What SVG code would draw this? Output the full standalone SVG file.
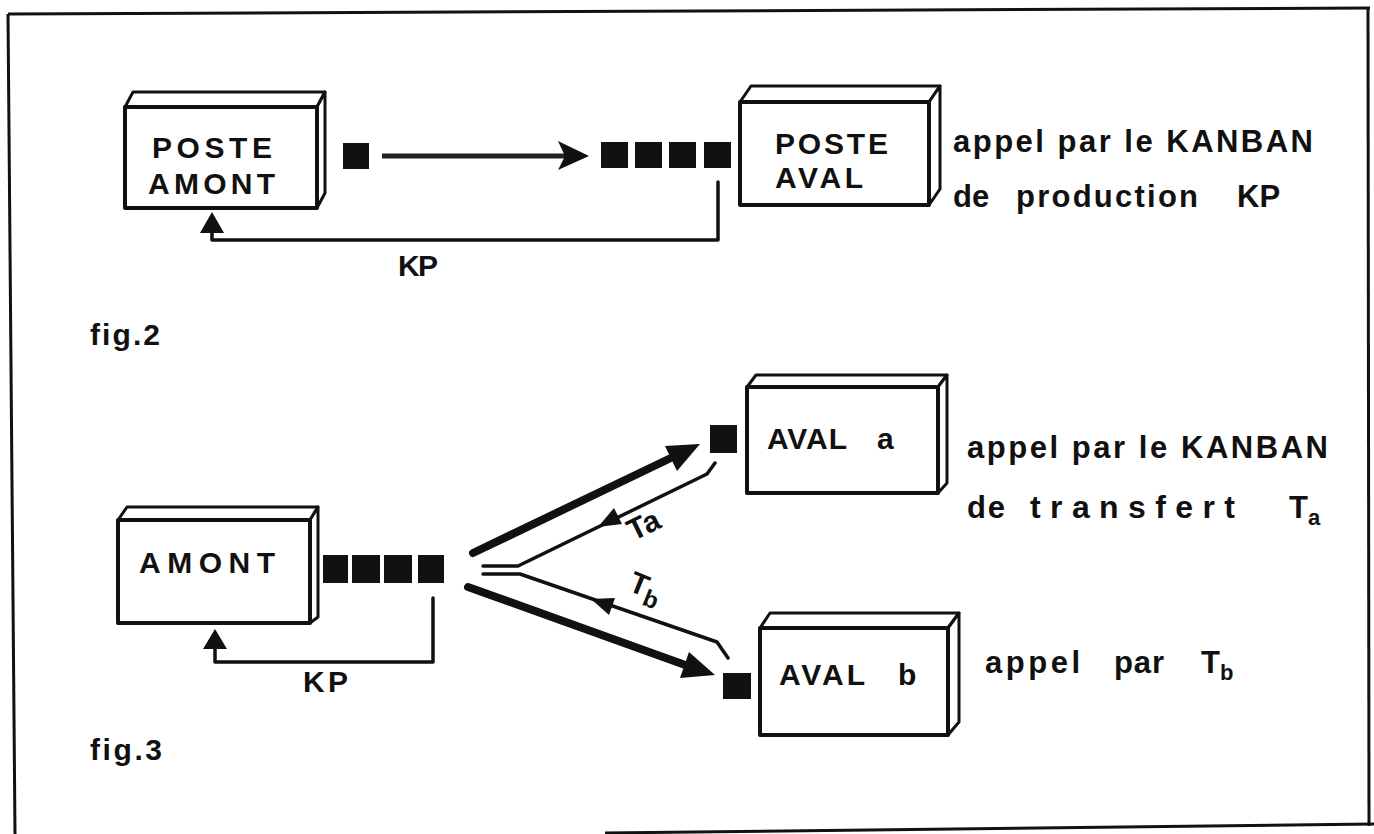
<svg xmlns="http://www.w3.org/2000/svg" width="1374" height="834" viewBox="0 0 1374 834">
<defs>
<style>
.face{fill:#fff;stroke:#111;stroke-width:4;stroke-linejoin:round}
.top{fill:#fff;stroke:#111;stroke-width:3;stroke-linejoin:round}
.lbl{font-family:"Liberation Sans",Arial,sans-serif;font-weight:bold;font-size:30px;fill:#111}
.txt{font-family:"Liberation Sans",Arial,sans-serif;font-weight:bold;font-size:31px;fill:#111}
.sq{fill:#111}
.ln{fill:none;stroke:#111;stroke-width:3.5;stroke-linejoin:round;stroke-linecap:round}
.thick{fill:none;stroke:#111;stroke-width:8;stroke-linecap:round}
.head{fill:#111}
</style>
</defs>
<rect width="1374" height="834" fill="#fff"/>
<g id="frame" fill="none" stroke="#111" stroke-width="3">
<path d="M8,14 L1370,8"/>
<path d="M8,14 L15,834"/>
<path d="M1368,8 L1369,826"/>
<path d="M605,833 L1374,824"/>
</g>

<g id="poste-amont">
<polygon class="top" points="125,107 133,92 325,92 317,107"/>
<polygon class="top" points="317,107 325,92 325,193 317,208"/>
<rect class="face" x="125" y="107" width="192" height="101"/>
<text class="lbl" x="152" y="158" textLength="120" lengthAdjust="spacing">POSTE</text>
<text class="lbl" x="148" y="194" textLength="127" lengthAdjust="spacing">AMONT</text>
</g>

<g id="poste-aval">
<polygon class="top" points="740,102 751,86 940,86 929,102"/>
<polygon class="top" points="929,102 940,86 940,189 929,205"/>
<rect class="face" x="740" y="102" width="189" height="103"/>
<text class="lbl" x="775" y="154" textLength="113" lengthAdjust="spacing">POSTE</text>
<text class="lbl" x="775" y="188" textLength="88" lengthAdjust="spacing">AVAL</text>
</g>

<g id="stock-fig2">
<rect class="sq" x="343" y="143" width="26" height="26"/>
<rect class="sq" x="601" y="142" width="27" height="26"/>
<rect class="sq" x="635" y="142" width="27" height="26"/>
<rect class="sq" x="669" y="142" width="27" height="26"/>
<rect class="sq" x="704" y="142" width="27" height="26"/>
</g>

<g id="text-fig2">
<text class="txt" x="953" y="152" textLength="360" lengthAdjust="spacing">appel par le KANBAN</text>
<text class="txt" y="207"><tspan x="953">de</tspan><tspan x="1016" textLength="182" lengthAdjust="spacing">production</tspan><tspan x="1237">KP</tspan></text>
<text class="lbl" x="398" y="276" textLength="40" lengthAdjust="spacing">KP</text>
<text class="lbl" x="90" y="345" textLength="70" lengthAdjust="spacing">fig.2</text>
</g>

<g id="amont">
<polygon class="top" points="118,520 127,507 318,507 310,520"/>
<polygon class="top" points="310,520 318,507 318,617 310,623"/>
<rect class="face" x="118" y="520" width="192" height="103"/>
<text class="lbl" x="139" y="573" textLength="136" lengthAdjust="spacing">AMONT</text>
</g>

<g id="stock-fig3">
<rect class="sq" x="323" y="555" width="25" height="28"/>
<rect class="sq" x="352" y="555" width="28" height="28"/>
<rect class="sq" x="384" y="555" width="28" height="28"/>
<rect class="sq" x="418" y="555" width="26" height="28"/>
</g>

<g id="aval-a">
<polygon class="top" points="747,387 756,375 947,375 938,387"/>
<polygon class="top" points="938,387 947,375 947,483 938,493"/>
<rect class="face" x="747" y="387" width="191" height="106"/>
<text class="lbl" x="767" y="449" textLength="80" lengthAdjust="spacing">AVAL</text>
<text class="lbl" x="877" y="449">a</text>
<rect class="sq" x="710" y="425" width="27" height="28"/>
</g>

<g id="aval-b">
<polygon class="top" points="760,628 770,613 959,613 948,628"/>
<polygon class="top" points="948,628 959,613 959,722 948,735"/>
<rect class="face" x="760" y="628" width="188" height="107"/>
<text class="lbl" x="779" y="685" textLength="86" lengthAdjust="spacing">AVAL</text>
<text class="lbl" x="898" y="685">b</text>
<rect class="sq" x="723" y="673" width="28" height="26"/>
</g>

<g id="text-fig3">
<text class="txt" x="967" y="458" textLength="361" lengthAdjust="spacing">appel par le KANBAN</text>
<text class="txt" y="518"><tspan x="967" textLength="38" lengthAdjust="spacing">de</tspan><tspan x="1030" font-size="32" textLength="205" lengthAdjust="spacing">transfert</tspan><tspan x="1289">T</tspan><tspan font-size="22" dy="7">a</tspan></text>
<text class="txt" y="673"><tspan x="985" textLength="95" lengthAdjust="spacing">appel</tspan><tspan x="1114" textLength="50" lengthAdjust="spacing">par</tspan><tspan x="1201">T</tspan><tspan font-size="22" dy="7">b</tspan></text>
<text class="lbl" x="303" y="692" textLength="45" lengthAdjust="spacing">KP</text>
<text class="lbl" x="90" y="760" textLength="72" lengthAdjust="spacing">fig.3</text>
</g>

<g id="connectors">
<line x1="382" y1="156" x2="566" y2="156" stroke="#222" stroke-width="5"/>
<polygon class="head" points="589,156 558,141 565,156 558,170"/>
<path class="ln" d="M718,182 L718,240 L212,240 L212,230"/>
<polygon class="head" points="212,212 200,233 224,233"/>
<path class="ln" d="M433,598 L433,662 L215,662 L215,646"/>
<polygon class="head" points="215,629 203,649 227,649"/>
<line class="thick" x1="473" y1="553" x2="675" y2="456"/>
<polygon class="head" points="700,444 677,471 665,446"/>
<line class="thick" x1="468" y1="587" x2="688" y2="666"/>
<polygon class="head" points="715,675 680,678 689,652"/>
<path class="ln" d="M715,463 L707,474 L518,566 L483,566"/>
<polygon class="head" points="598,527 622,524 614,508"/>
<path class="ln" d="M728,658 L717,642 L520,574 L483,574"/>
<polygon class="head" points="591,599 615,598 609,615"/>
<text class="lbl" font-size="28" transform="translate(648,534) rotate(-26)" text-anchor="middle">Ta</text>
<text class="lbl" font-size="28" transform="translate(627,590) rotate(22)"><tspan>T</tspan><tspan font-size="24" dy="8">b</tspan></text>
</g>
</svg>
